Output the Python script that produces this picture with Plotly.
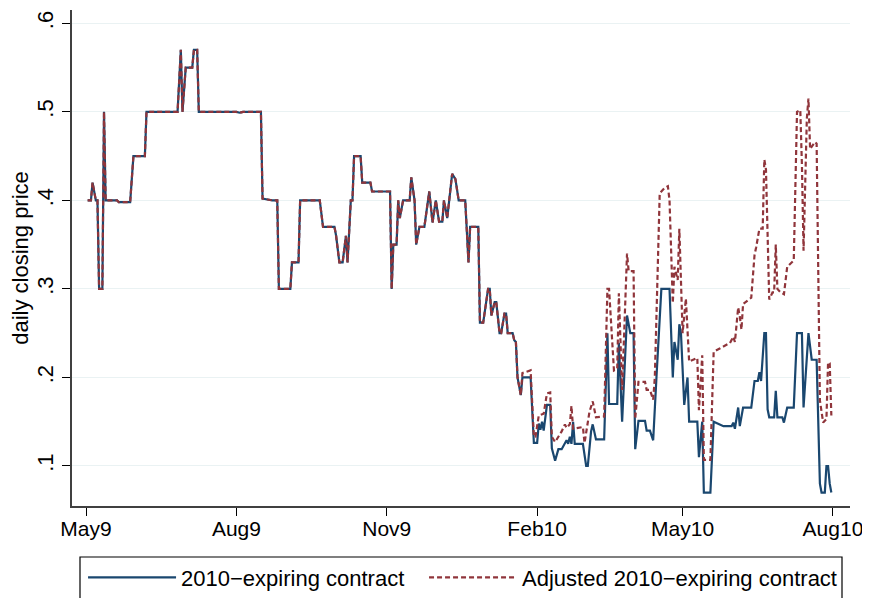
import plotly.graph_objects as go

# ---- data (daily closing prices) ----
common_dates = [
    "2009-05-02", "2009-05-04", "2009-05-05", "2009-05-07", "2009-05-08", "2009-05-09",
    "2009-05-11", "2009-05-12", "2009-05-13", "2009-05-20", "2009-05-21", "2009-05-28",
    "2009-05-30", "2009-06-06", "2009-06-07", "2009-06-26", "2009-06-28", "2009-06-29",
    "2009-07-01", "2009-07-05", "2009-07-06", "2009-07-08", "2009-07-09", "2009-08-01",
    "2009-08-03", "2009-08-05", "2009-08-16", "2009-08-17", "2009-08-20", "2009-08-23",
    "2009-08-26", "2009-08-27", "2009-09-03", "2009-09-04", "2009-09-08", "2009-09-09",
    "2009-09-21", "2009-09-23", "2009-09-30", "2009-10-01", "2009-10-03", "2009-10-05",
    "2009-10-07", "2009-10-08", "2009-10-10", "2009-10-11", "2009-10-12", "2009-10-16",
    "2009-10-17", "2009-10-22", "2009-10-23", "2009-11-03", "2009-11-04", "2009-11-05",
    "2009-11-07", "2009-11-08", "2009-11-09", "2009-11-11", "2009-11-15", "2009-11-16",
    "2009-11-18", "2009-11-19", "2009-11-21", "2009-11-24", "2009-11-27", "2009-11-29",
    "2009-12-01", "2009-12-03", "2009-12-05", "2009-12-06", "2009-12-08", "2009-12-11",
    "2009-12-13", "2009-12-15", "2009-12-19", "2009-12-21", "2009-12-22", "2009-12-27",
    "2009-12-28", "2009-12-30", "2010-01-02", "2010-01-03", "2010-01-04", "2010-01-06",
    "2010-01-07", "2010-01-09", "2010-01-10", "2010-01-12", "2010-01-13", "2010-01-14",
    "2010-01-17", "2010-01-18", "2010-01-19",
]
common_price = [
    0.40, 0.40, 0.42, 0.40, 0.40, 0.30,
    0.30, 0.50, 0.40, 0.40, 0.398, 0.398,
    0.45, 0.45, 0.50, 0.50, 0.57, 0.50,
    0.55, 0.55, 0.57, 0.57, 0.50, 0.50,
    0.499, 0.50, 0.50, 0.402, 0.401, 0.40,
    0.40, 0.30, 0.30, 0.33, 0.33, 0.40,
    0.40, 0.37, 0.37, 0.36, 0.33, 0.33,
    0.36, 0.33, 0.40, 0.40, 0.45, 0.45,
    0.42, 0.42, 0.41, 0.41, 0.30, 0.35,
    0.35, 0.40, 0.38, 0.40, 0.40, 0.426,
    0.40, 0.35, 0.37, 0.37, 0.41, 0.375,
    0.40, 0.376, 0.376, 0.40, 0.38, 0.43,
    0.424, 0.40, 0.40, 0.33, 0.37, 0.37,
    0.262, 0.262, 0.30, 0.30, 0.27, 0.285,
    0.285, 0.25, 0.25, 0.272, 0.272, 0.25,
    0.25, 0.242, 0.24,
]

# 2010-expiring contract, after the shared part
tail_dates = [
    "2010-01-20", "2010-01-22", "2010-01-23", "2010-01-28", "2010-01-30", "2010-02-01",
    "2010-02-02", "2010-02-03", "2010-02-04", "2010-02-05", "2010-02-06", "2010-02-07",
    "2010-02-09", "2010-02-10", "2010-02-12", "2010-02-14", "2010-02-16", "2010-02-19",
    "2010-02-20", "2010-02-21", "2010-02-22", "2010-02-23", "2010-02-24", "2010-03-01",
    "2010-03-03", "2010-03-04", "2010-03-06", "2010-03-07", "2010-03-09", "2010-03-14",
    "2010-03-16", "2010-03-17", "2010-03-22", "2010-03-23", "2010-03-25", "2010-03-28",
    "2010-03-30", "2010-04-01", "2010-04-02", "2010-04-04", "2010-04-08", "2010-04-09",
    "2010-04-11", "2010-04-13", "2010-04-15", "2010-04-18", "2010-04-23", "2010-04-25",
    "2010-04-26", "2010-04-28", "2010-04-29", "2010-04-30", "2010-05-02", "2010-05-04",
    "2010-05-05", "2010-05-10", "2010-05-11", "2010-05-13", "2010-05-14", "2010-05-18",
    "2010-05-20", "2010-05-26", "2010-05-31", "2010-06-01", "2010-06-02", "2010-06-04",
    "2010-06-05", "2010-06-07", "2010-06-12", "2010-06-14", "2010-06-16", "2010-06-17",
    "2010-06-18", "2010-06-20", "2010-06-21", "2010-06-22", "2010-06-23", "2010-06-26",
    "2010-06-27", "2010-06-28", "2010-07-01", "2010-07-02", "2010-07-04", "2010-07-08",
    "2010-07-10", "2010-07-13", "2010-07-14", "2010-07-17", "2010-07-19", "2010-07-22",
    "2010-07-24", "2010-07-25", "2010-07-27", "2010-07-28", "2010-07-29", "2010-07-30",
    "2010-07-31",
]
tail_price = [
    0.20, 0.18, 0.20, 0.20, 0.126, 0.126,
    0.148, 0.141, 0.15, 0.14, 0.152, 0.169,
    0.169, 0.12, 0.106, 0.119, 0.119, 0.129,
    0.125, 0.133, 0.125, 0.15, 0.125, 0.125,
    0.10, 0.10, 0.139, 0.147, 0.13, 0.13,
    0.25, 0.17, 0.17, 0.239, 0.15, 0.27,
    0.25, 0.25, 0.119, 0.151, 0.151, 0.14,
    0.14, 0.129, 0.20, 0.30, 0.30, 0.20,
    0.24, 0.22, 0.26, 0.25, 0.169, 0.20,
    0.15, 0.15, 0.11, 0.15, 0.07, 0.07,
    0.15, 0.145, 0.145, 0.149, 0.142, 0.166,
    0.145, 0.166, 0.166, 0.196, 0.196, 0.206,
    0.196, 0.25, 0.25, 0.164, 0.155, 0.155,
    0.185, 0.155, 0.155, 0.149, 0.166, 0.166,
    0.25, 0.25, 0.166, 0.25, 0.22, 0.22,
    0.08, 0.07, 0.07, 0.10, 0.10, 0.08,
    0.07,
]

# Adjusted 2010-expiring contract, after the shared part
adj_tail_dates = [
    "2010-01-20", "2010-01-22", "2010-01-23", "2010-01-28", "2010-01-30", "2010-01-31",
    "2010-02-02", "2010-02-05", "2010-02-07", "2010-02-09", "2010-02-10", "2010-02-12",
    "2010-02-13", "2010-02-16", "2010-02-18", "2010-02-19", "2010-02-21", "2010-02-22",
    "2010-02-23", "2010-03-01", "2010-03-02", "2010-03-04", "2010-03-05", "2010-03-07",
    "2010-03-09", "2010-03-14", "2010-03-16", "2010-03-17", "2010-03-20", "2010-03-22",
    "2010-03-23", "2010-03-25", "2010-03-28", "2010-03-29", "2010-04-01", "2010-04-02",
    "2010-04-04", "2010-04-08", "2010-04-09", "2010-04-11", "2010-04-13", "2010-04-14",
    "2010-04-17", "2010-04-20", "2010-04-22", "2010-04-23", "2010-04-25", "2010-04-26",
    "2010-04-28", "2010-04-29", "2010-05-01", "2010-05-03", "2010-05-05", "2010-05-10",
    "2010-05-11", "2010-05-13", "2010-05-14", "2010-05-18", "2010-05-20", "2010-05-24",
    "2010-05-30", "2010-06-01", "2010-06-02", "2010-06-04", "2010-06-05", "2010-06-06",
    "2010-06-07", "2010-06-12", "2010-06-14", "2010-06-15", "2010-06-17", "2010-06-19",
    "2010-06-20", "2010-06-21", "2010-06-23", "2010-06-25", "2010-06-26", "2010-06-27",
    "2010-06-28", "2010-06-30", "2010-07-02", "2010-07-04", "2010-07-08", "2010-07-10",
    "2010-07-12", "2010-07-13", "2010-07-14", "2010-07-16", "2010-07-17", "2010-07-18",
    "2010-07-21", "2010-07-22", "2010-07-24", "2010-07-26", "2010-07-28", "2010-07-29",
    "2010-07-30", "2010-07-31",
]
adj_tail_price = [
    0.20, 0.18, 0.205, 0.208, 0.133, 0.133,
    0.157, 0.159, 0.182, 0.183, 0.133, 0.127,
    0.13, 0.139, 0.147, 0.143, 0.147, 0.168,
    0.142, 0.144, 0.126, 0.152, 0.161, 0.173,
    0.155, 0.156, 0.30, 0.30, 0.208, 0.21,
    0.295, 0.186, 0.34, 0.32, 0.32, 0.153,
    0.195, 0.195, 0.186, 0.186, 0.175, 0.20,
    0.408, 0.414, 0.416, 0.40, 0.284, 0.325,
    0.31, 0.368, 0.25, 0.289, 0.218, 0.222,
    0.163, 0.225, 0.107, 0.107, 0.229, 0.233,
    0.239, 0.246, 0.24, 0.279, 0.269, 0.254,
    0.283, 0.29, 0.338, 0.347, 0.368, 0.368,
    0.446, 0.435, 0.288, 0.296, 0.296, 0.35,
    0.30, 0.296, 0.294, 0.325, 0.332, 0.50,
    0.502, 0.44, 0.343, 0.492, 0.515, 0.458,
    0.466, 0.464, 0.174, 0.149, 0.153, 0.217,
    0.216, 0.157,
]

series_names = ["2010\u2212expiring contract", "Adjusted 2010\u2212expiring contract"]

x_tick_dates = ["2009-05-01", "2009-08-01", "2009-11-01", "2010-02-01", "2010-05-01", "2010-08-01"]
x_tick_labels = ["May9", "Aug9", "Nov9", "Feb10", "May10", "Aug10"]
y_tick_vals = [0.1, 0.2, 0.3, 0.4, 0.5, 0.6]
y_tick_labels = [".1", ".2", ".3", ".4", ".5", ".6"]

# ---- styling ----
FONT = "Liberation Sans, Arial, Helvetica, sans-serif"
NAVY = "#1a476f"
MAROON = "#90353b"
GRID = "#eaf2f3"
AXIS = "#404040"
FS = 22

fig = go.Figure()
fig.add_trace(go.Scatter(
    x=common_dates + tail_dates, y=common_price + tail_price,
    mode="lines", name=series_names[0], legend="legend",
    line=dict(color=NAVY, width=2.2),
))
fig.add_trace(go.Scatter(
    x=common_dates + adj_tail_dates, y=common_price + adj_tail_price,
    mode="lines", name=series_names[1], legend="legend2",
    line=dict(color=MAROON, width=2.2, dash="5px,3px"),
))

legend_common = dict(
    orientation="h", xanchor="left", yanchor="top",
    bgcolor="rgba(0,0,0,0)", borderwidth=0,
    font=dict(family=FONT, size=FS, color="black"),
    itemwidth=88,
)

# page has an 8px body margin; the figure runs just past the window edges
fig.update_layout(
    width=870, height=598,
    margin=dict(l=64, r=28, t=2, b=100),
    paper_bgcolor="white", plot_bgcolor="white",
    font=dict(family=FONT, color="black", size=FS),
    showlegend=True,
    legend=dict(x=0.0142, y=-0.102, **legend_common),
    legend2=dict(x=0.4525, y=-0.102, **legend_common),
    shapes=[dict(
        type="rect", xref="paper", yref="paper",
        x0=0.01028, x1=0.98972, y0=-0.10282, y1=-0.21,
        line=dict(color="black", width=1.2), fillcolor="rgba(0,0,0,0)",
        layer="below",
    )],
    xaxis=dict(
        type="date", automargin=False,
        range=["2009-04-22 10:00", "2010-08-11 10:00"],
        tickmode="array", tickvals=x_tick_dates, ticktext=x_tick_labels,
        ticks="outside", ticklen=8, tickwidth=1.3, tickcolor="black",
        ticklabelstandoff=-5,
        showline=True, linecolor=AXIS, linewidth=1.5,
        showgrid=False, zeroline=False,
        tickfont=dict(family=FONT, size=21, color="black"),
    ),
    yaxis=dict(
        automargin=False,
        range=[0.0548, 0.615],
        tickmode="array", tickvals=y_tick_vals, ticktext=y_tick_labels,
        tickangle=-90,
        ticks="outside", ticklen=8, tickwidth=1.3, tickcolor="black",
        showline=True, linecolor=AXIS, linewidth=1.5,
        showgrid=True, gridcolor=GRID, gridwidth=1.2,
        zeroline=False,
        tickfont=dict(family=FONT, size=FS, color="black"),
        title=dict(text="daily closing price", font=dict(family=FONT, size=FS, color="black"), standoff=0),
    ),
)

fig.write_html("out.html")
